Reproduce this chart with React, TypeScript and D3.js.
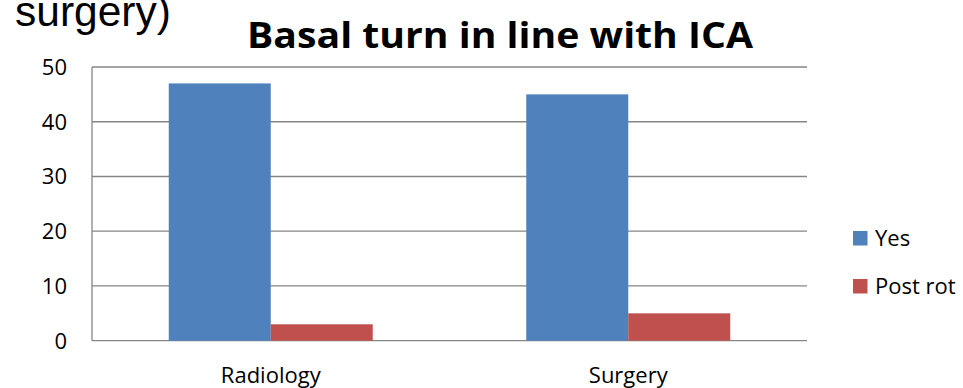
import React from "react";
import * as d3 from "d3";

const categories = ["Radiology", "Surgery"];
const seriesNames = ["Yes", "Post rot"];
const yesValues = [47, 45];
const postRotValues = [3, 5];
const yTicks = [0, 10, 20, 30, 40, 50];
const colors = ["#4f81bd", "#c0504d"];

export default function App() {
  const W = 963, H = 388;
  const left = 92, right = 807, top = 67, bottom = 340.7;
  const x = d3.scaleBand().domain(categories).range([left, right]).paddingInner(0).paddingOuter(0);
  const y = d3.scaleLinear().domain([0, 50]).range([bottom, top]);
  const groupW = 204;
  const xs = d3.scaleBand().domain(seriesNames).range([0, groupW]);
  const series = [yesValues, postRotValues];
  const font = "'Open Sans', sans-serif";
  return (
    <svg width={W} height={H} style={{ position: "absolute", left: 0, top: 0, background: "#fff" }}>
      <text x={15} y={26} fontFamily="'Liberation Sans', Arial, sans-serif" fontSize={42.5} fill="#000">surgery)</text>
      <text x={247} y={48} textLength={506} lengthAdjust="spacingAndGlyphs" fontFamily={font} fontWeight="bold" fontSize={35} fill="#000">Basal turn in line with ICA</text>
      {yTicks.map((t) => (
        <g key={t}>
          <line x1={left} x2={right} y1={y(t)} y2={y(t)} stroke="#868686" strokeWidth={1.3} />
          <text x={67} y={y(t)} dy="0.36em" textAnchor="end" fontFamily={font} fontSize={22} fill="#000">{t}</text>
        </g>
      ))}
      <line x1={left} x2={left} y1={top} y2={bottom} stroke="#868686" strokeWidth={1.3} />
      {categories.map((c, i) => {
        const cx = (x(c) as number) + x.bandwidth() / 2;
        return (
          <g key={c}>
            {seriesNames.map((s, j) => (
              <rect key={s} x={cx - groupW / 2 + (xs(s) as number)} width={xs.bandwidth()} y={y(series[j][i])} height={bottom - y(series[j][i])} fill={colors[j]} />
            ))}
            <text x={cx} y={383} textAnchor="middle" fontFamily={font} fontSize={22} fill="#000">{c}</text>
          </g>
        );
      })}
      {seriesNames.map((s, j) => (
        <g key={s}>
          <rect x={853} y={231 + j * 48} width={14.5} height={14.5} fill={colors[j]} />
          <text x={875} y={246 + j * 48} fontFamily={font} fontSize={22} fill="#000">{s}</text>
        </g>
      ))}
    </svg>
  );
}
